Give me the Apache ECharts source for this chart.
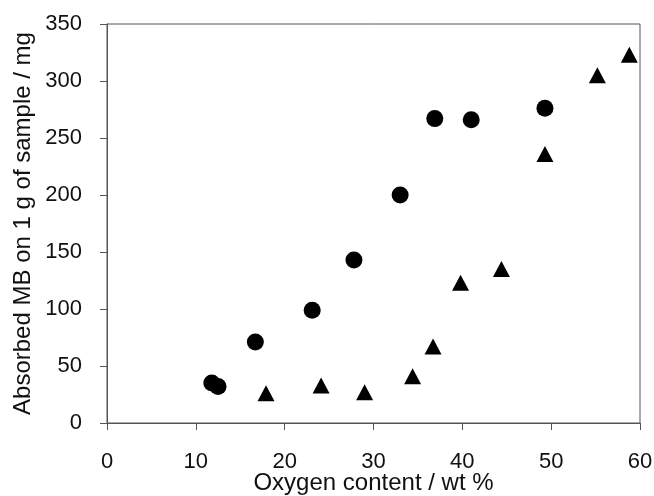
<!DOCTYPE html>
<html>
<head>
<meta charset="utf-8">
<script src="https://cdn.jsdelivr.net/npm/echarts@6/dist/echarts.min.js"></script>
<style>html,body{margin:0;padding:0;background:#fff}#c{width:654px;height:496px}</style>
</head>
<body>
<div id="c"></div>
<script>
// Data
const circleX = [11.8, 12.5, 16.7, 23.1, 27.8, 33.0, 36.9, 41.0, 49.3];
const circleY = [35, 32, 71, 99, 143, 200, 267, 266, 276];
const triangleX = [17.9, 24.1, 29.0, 34.4, 36.7, 39.8, 44.4, 49.3, 55.2, 58.8];
const triangleY = [26, 33, 27, 41, 67, 123, 135, 236, 305, 323];
const xTitle = 'Oxygen content / wt %';
const yTitle = 'Absorbed MB on 1 g of sample / mg';

const zip = (xs, ys) => xs.map((x, i) => [x, ys[i]]);
const font = 'Liberation Sans, Arial, sans-serif';
const axisCol = '#555';

const chart = echarts.init(document.getElementById('c'), null, {renderer: 'canvas'});
chart.setOption({
  animation: false,
  backgroundColor: '#fff',
  grid: {left: 107, right: 14, top: 24, bottom: 73, containLabel: false, outerBoundsMode: 'none',
         show: true, borderColor: axisCol, borderWidth: 1},
  xAxis: {
    type: 'value', min: 0, max: 60, interval: 10,
    name: xTitle, nameLocation: 'middle', nameGap: 48, nameMoveOverlap: false,
    nameTextStyle: {fontFamily: font, fontSize: 24, color: '#111'},
    axisLine: {show: true, onZero: false, lineStyle: {color: axisCol, width: 1}},
    axisTick: {show: true, inside: false, length: 7, lineStyle: {color: axisCol}},
    axisLabel: {fontFamily: font, fontSize: 22, color: '#111', margin: 28},
    splitLine: {show: false}
  },
  yAxis: {
    type: 'value', min: 0, max: 350, interval: 50,
    name: yTitle, nameLocation: 'middle', nameGap: 72, nameRotate: 90, nameMoveOverlap: false,
    nameTextStyle: {fontFamily: font, fontSize: 24, color: '#111'},
    axisLine: {show: true, lineStyle: {color: axisCol, width: 1}},
    axisTick: {show: true, inside: false, length: 7, lineStyle: {color: axisCol}},
    axisLabel: {fontFamily: font, fontSize: 22, color: '#111', margin: 25},
    splitLine: {show: false}
  },
  series: [
    {type: 'scatter', symbol: 'circle', symbolSize: 17, itemStyle: {color: '#000', opacity: 1}, data: zip(circleX, circleY)},
    {type: 'scatter', symbol: 'triangle', symbolSize: [17, 16], itemStyle: {color: '#000', opacity: 1}, data: zip(triangleX, triangleY)}
  ]
});
</script>
</body>
</html>
